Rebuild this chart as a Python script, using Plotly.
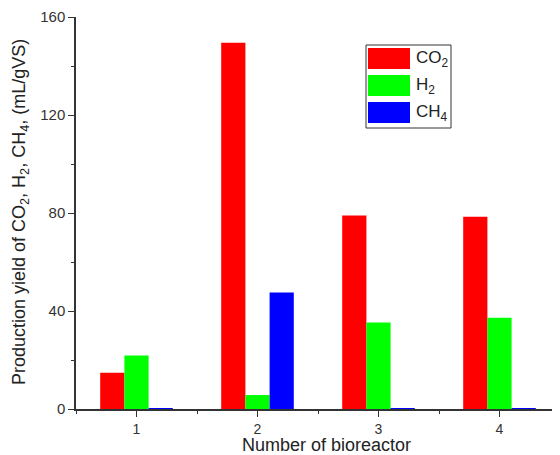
import plotly.graph_objects as go

categories = [1, 2, 3, 4]
co2 = [14.8, 149.5, 79.0, 78.5]
h2 = [21.8, 5.7, 35.3, 37.2]
ch4 = [0.4, 47.6, 0.2, 0.4]
series_names = ["CO<sub>2</sub>", "H<sub>2</sub>", "CH<sub>4</sub>"]
colors = ["#FF0000", "#00FF00", "#0000FF"]
y_ticks = [0, 40, 80, 120, 160]

OFF = 8  # page body margin
W, H = 560 - OFF, 455 - OFF
L, T = 76 - OFF, 17 - OFF
pw, ph = 484, 392
R = W - L - pw
B = H - T - ph

def px_x(x):
    return (x - OFF - L) / pw

def px_y(y):
    return (T + ph - (y - OFF)) / ph

fig = go.Figure()
for name, vals, col in zip(series_names, [co2, h2, ch4], colors):
    fig.add_trace(go.Bar(x=categories, y=vals, name=name, showlegend=False,
                         marker=dict(color=col, line=dict(width=0))))

font_family = "Liberation Sans, Arial, sans-serif"
axis_color = "#333333"

shapes = [dict(type="rect", xref="paper", yref="paper",
               x0=px_x(366), x1=px_x(451), y0=px_y(128), y1=px_y(45),
               line=dict(color="#333333", width=1), fillcolor="white", layer="above")]
annotations = []
for i, (name, col) in enumerate(zip(series_names, colors)):
    top = 48 + i * 27
    shapes.append(dict(type="rect", xref="paper", yref="paper",
                       x0=px_x(368), x1=px_x(410), y0=px_y(top + 21), y1=px_y(top),
                       line=dict(width=0), fillcolor=col, layer="above"))
    annotations.append(dict(xref="paper", yref="paper", x=px_x(414), y=px_y(top + 10.5),
                            xanchor="left", yanchor="middle", showarrow=False,
                            text=name, font=dict(size=17, color="#222222")))

annotations.append(dict(xref="paper", yref="paper", x=px_x(326), y=px_y(445),
                        xanchor="center", yanchor="middle", showarrow=False,
                        text="Number of bioreactor", font=dict(size=18, color="#222222")))
annotations.append(dict(xref="paper", yref="paper", x=px_x(20), y=px_y(212),
                        xanchor="center", yanchor="middle", showarrow=False, textangle=-90,
                        text="Production yield of CO<sub>2</sub>, H<sub>2</sub>, CH<sub>4</sub>, (mL/gVS)",
                        font=dict(size=18, color="#222222")))

fig.update_layout(
    width=W, height=H,
    margin=dict(l=L, r=R, t=T, b=B, autoexpand=False),
    plot_bgcolor="white", paper_bgcolor="white",
    barmode="group", bargap=0.4, bargroupgap=0,
    font=dict(family=font_family, size=14, color=axis_color),
    shapes=shapes, annotations=annotations,
)
fig.update_xaxes(
    range=[0.5, 4.5], tickvals=categories, automargin=False,
    showline=True, linecolor=axis_color, linewidth=1.5,
    ticks="outside", ticklen=6, tickwidth=1.2, tickcolor=axis_color,
    minor=dict(dtick=0.5, tick0=0.5, ticks="outside", ticklen=3, tickcolor=axis_color, tickwidth=1.2),
    showgrid=False, zeroline=False,
    tickfont=dict(size=14),
)
fig.update_yaxes(
    range=[0, 160], tickvals=y_ticks, automargin=False,
    showline=True, linecolor=axis_color, linewidth=1.5,
    ticks="outside", ticklen=6, tickwidth=1.2, tickcolor=axis_color,
    minor=dict(dtick=20, tick0=0, ticks="outside", ticklen=3, tickcolor=axis_color, tickwidth=1.2),
    showgrid=False, zeroline=False,
    tickfont=dict(size=15),
)

fig.write_html("out.html")
